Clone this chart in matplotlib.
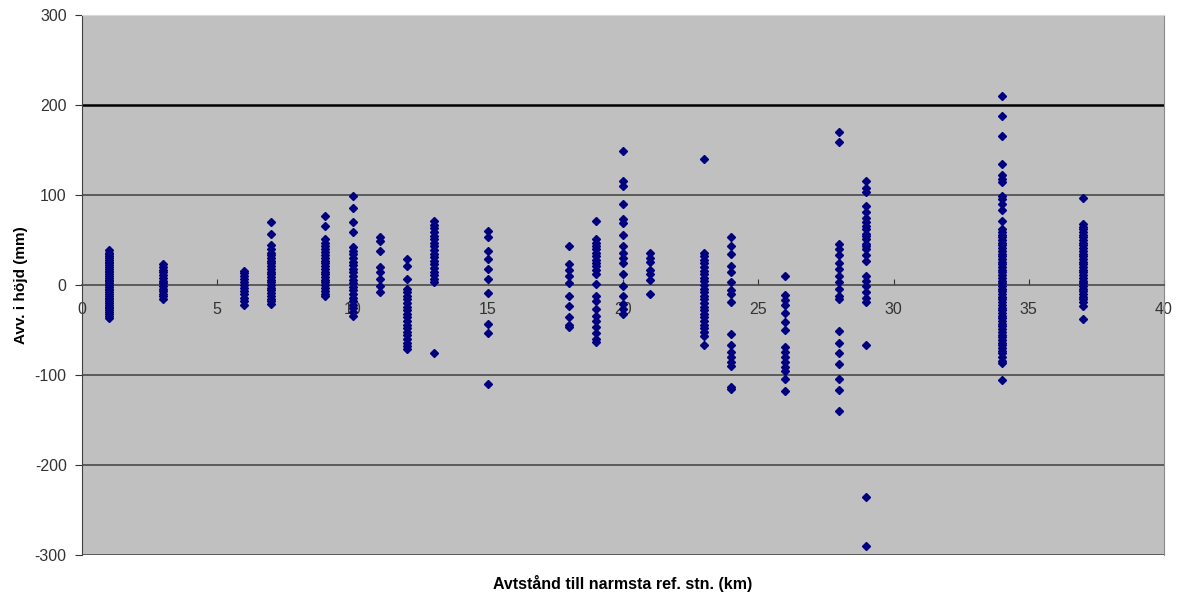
##=========================================================
# Avvikelse i höjd mot avstånd till närmsta referensstation
##=========================================================

import numpy as np
import matplotlib.pyplot as plt

pt_c = '#000080'
bg_c = '#C0C0C0'
grid_c = '#4a4a4a'

##===========================================
# Data (mm), one list per distance (km)
##===========================================
km01 = [39, 36, 34, 32, 30, 28, 26, 24, 22, 20, 18, 16, 14, 12, 10, 8, 6, 4, 2, 0,
        -2, -4, -6, -8, -10, -12, -14, -16, -18, -20, -22, -24, -26, -28, -30, -32, -34, -37]
km03 = [23, 20, 17, 14, 11, 8, 5, 2, -1, -4, -7, -10, -12, -15]
km06 = [16, 13, 10, 7, 3, 0, -3, -7, -10, -14, -18, -22]
km07 = [70, 57, 44, 40, 36, 33, 30, 27, 24, 21, 18, 15, 12, 9, 6, 3, 0, -3, -6, -9,
        -12, -15, -18, -21]
km09 = [77, 66, 51, 47, 43, 40, 37, 33, 30, 27, 24, 21, 18, 15, 12, 9, 6, 3, 0, -3,
        -7, -10, -12]
km10 = [99, 86, 70, 59, 42, 38, 34, 30, 26, 22, 18, 14, 10, 6, 2, -2, -6, -10, -14,
        -18, -22, -26, -30, -34]
km11 = [53, 49, 38, 20, 14, 7, -1, -8]
km12 = [29, 21, 7, -4, -8, -12, -16, -20, -24, -28, -32, -36, -40, -44, -48, -52, -56,
        -60, -64, -68, -71]
km13 = [71, 67, 63, 59, 55, 51, 47, 43, 39, 35, 31, 27, 23, 19, 15, 11, 7, 3, -75]
km15 = [60, 53, 38, 29, 18, 7, -9, -43, -53, -110]
km18 = [43, 23, 17, 10, 2, -12, -23, -36, -44, -47]
km19 = [71, 51, 47, 43, 40, 36, 32, 28, 25, 21, 17, 12, 1, -12, -18, -27, -34, -40,
        -47, -53, -60, -63]
km20 = [149, 116, 110, 90, 73, 69, 56, 43, 36, 30, 25, 12, -1, -12, -21, -27, -32]
km21 = [36, 30, 26, 17, 12, 6, -10]
km23 = [140, 36, 32, 28, 24, 20, 16, 12, 8, 4, 0, -4, -8, -12, -16, -20, -24, -28, -32,
        -36, -40, -44, -48, -52, -57, -67]
km24 = [53, 43, 34, 21, 14, 3, -5, -10, -19, -54, -67, -74, -80, -85, -90, -113, -116]
km26 = [10, -11, -17, -22, -31, -41, -50, -69, -74, -80, -85, -91, -96, -104, -118]
km28 = [170, 159, 46, 40, 33, 25, 18, 10, 3, -4, -12, -16, -51, -64, -75, -88, -104,
        -117, -140]
km29 = [116, 108, 103, 88, 81, 75, 70, 66, 62, 57, 54, 51, 46, 43, 40, 33, 27, 10, 5,
        -1, -8, -14, -19, -67, -235, -290]
km34 = [210, 188, 166, 134, 122, 118, 114, 99, 96, 90, 83, 71, 62, 59, 56, 53, 50, 47,
        44, 41, 38, 35, 32, 29, 26, 23, 20, 17, 14, 11, 8, 5, 2, -1, -4, -7, -10, -13,
        -16, -19, -22, -25, -28, -31, -34, -37, -40, -43, -46, -49, -52, -55, -58, -61,
        -64, -67, -70, -73, -76, -80, -84, -87, -106]
km37 = [97, 68, 65, 62, 59, 56, 53, 50, 47, 44, 41, 38, 35, 32, 29, 26, 23, 20, 17, 14,
        11, 8, 5, 2, -1, -4, -7, -10, -13, -16, -19, -23, -38]

distances = [1, 3, 6, 7, 9, 10, 11, 12, 13, 15, 18, 19, 20, 21, 23, 24, 26, 28, 29, 34, 37]
columns = [km01, km03, km06, km07, km09, km10, km11, km12, km13, km15, km18, km19,
           km20, km21, km23, km24, km26, km28, km29, km34, km37]

x_ticks = [0, 5, 10, 15, 20, 25, 30, 35, 40]
y_ticks = [-300, -200, -100, 0, 100, 200, 300]

dist = []
dev = []
for d, vals in zip(distances, columns):
    dist += [d] * len(vals)
    dev += vals

##==========================================
# Plot
##==========================================
plt.rcParams['font.family'] = ['Liberation Sans', 'DejaVu Sans']
plt.rcParams['axes.unicode_minus'] = False

fig = plt.figure(figsize=(11.78, 5.95), dpi=100)
ax = fig.add_axes([82/1178, 40/595, 1082/1178, 540/595])
ax.set_facecolor(bg_c)

for v in [-300, -200, -100, 100]:
    ax.axhline(v, color=grid_c, lw=1.2, zorder=1)
ax.axhline(200, color='black', lw=1.8, zorder=1)

ax.plot(dist, dev, 'D', ms=4.4, color=pt_c, mec=pt_c, zorder=3, clip_on=False)

ax.set_xlim(0, 40)
ax.set_ylim(-300, 300)
ax.set_xticks(x_ticks)
ax.set_yticks(y_ticks)

ax.spines['bottom'].set_position(('data', 0))
ax.spines['bottom'].set_color(grid_c)
ax.spines['bottom'].set_linewidth(1.2)
ax.spines['left'].set_color('#404040')
ax.spines['top'].set_color('#d8d8d8')
ax.spines['right'].set_color('#8a8a8a')

ax.tick_params(axis='x', direction='in', length=4, pad=12, labelsize=11.5,
               colors='#333333')
ax.tick_params(axis='y', direction='out', length=5, pad=6, labelsize=11.5,
               colors='#333333')

ax.set_xlabel('Avtstånd till narmsta ref. stn. (km)', fontsize=11.5, fontweight='bold')
ax.xaxis.set_label_coords(0.5, -0.052)
ax.xaxis.label.set_va('center')
ax.set_ylabel('Avv. i höjd (mm)', fontsize=11, fontweight='bold')
ax.yaxis.set_label_coords(-0.05, 0.5)

plt.savefig('out.png', dpi=100)
